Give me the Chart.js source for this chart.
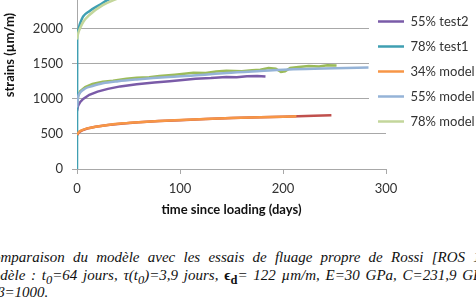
<!DOCTYPE html>
<html>
<head>
<meta charset="utf-8">
<script src="https://cdn.jsdelivr.net/npm/chart.js@4"></script>
<style>
  html, body { margin: 0; padding: 0; background: #fff; }
  #wrap { position: relative; width: 476px; height: 304px; overflow: hidden; }
  /* the plot runs above the top edge in the source picture, so the canvas is shifted up */
  #box { position: absolute; left: 0; top: -79px; width: 476px; height: 309px; }
  .cap { position: absolute; white-space: nowrap; font-family: "Liberation Serif", serif; font-style: italic; font-size: 15px; color: #111; line-height: 18px; }
  .cap b { font-style: normal; }
</style>
</head>
<body>
<div id="wrap">
  <div id="box"><canvas id="creepChart"></canvas></div>
  <div class="cap" style="left:-17px; top:248px; word-spacing:4.5px">Comparaison du modèle avec les essais de fluage propre de Rossi [ROS 12]</div>
  <div class="cap" style="left:-18px; top:266px; word-spacing:2px">modèle : t<sub>0</sub>=64 jours, τ(t<sub>0</sub>)=3,9 jours, <b>ϵ<sub>d</sub></b>= 122 µm/m, E=30 GPa, C=231,9 GPa,</div>
  <div class="cap" style="left:-3px; top:283px">β=1000.</div>
</div>
<script>
// values: days since loading -> strain (µm/m)
const days34test = [0, 2, 5, 10, 18, 30, 45, 60, 80, 100, 125, 150, 178, 200, 215, 230, 247];
const strain34test = [480, 528, 553, 578, 603, 628, 650, 667, 684, 698, 713, 727, 740, 748, 753, 759, 768];

const days55test1 = [0, 1, 3, 8, 15, 25, 35, 48, 58, 70, 80, 95, 113, 125, 135, 145, 160, 170, 178, 186, 193, 198, 202, 207, 215, 225, 235, 243, 252];
const strain55test1 = [900, 1040, 1110, 1170, 1215, 1248, 1262, 1290, 1302, 1312, 1327, 1347, 1376, 1370, 1392, 1402, 1396, 1412, 1418, 1442, 1432, 1386, 1396, 1442, 1456, 1470, 1466, 1481, 1478];

const days55test2 = [0, 1, 3, 6, 12, 20, 30, 42, 58, 75, 90, 105, 115, 130, 145, 155, 165, 175, 183];
const strain55test2 = [830, 900, 955, 1000, 1060, 1105, 1145, 1180, 1210, 1235, 1255, 1275, 1290, 1300, 1315, 1310, 1325, 1330, 1322];

const days78test1 = [0, 0.2, 1, 3, 6, 12, 22, 30, 50, 80, 120];
const strain78test1 = [0, 1900, 1990, 2080, 2180, 2255, 2345, 2415, 2520, 2620, 2700];

const days34model = [0, 2, 5, 10, 18, 30, 45, 60, 80, 100, 125, 150, 178, 200, 213];
const strain34model = [490, 530, 555, 580, 605, 630, 652, 668, 685, 700, 715, 728, 740, 748, 752];

const days55model = [0, 1, 3, 8, 15, 25, 40, 58, 89, 113, 145, 178, 210, 250, 283];
const strain55model = [880, 1020, 1090, 1150, 1185, 1225, 1255, 1280, 1315, 1335, 1372, 1400, 1425, 1440, 1450];

const days78model = [0, 1, 3, 6, 12, 25, 35, 60, 100, 150];
const strain78model = [1850, 1930, 2010, 2100, 2200, 2340, 2410, 2520, 2620, 2700];

const xTicks = [0, 100, 200, 300];
const yTicks = [0, 500, 1000, 1500, 2000];

const pts = (xs, ys) => xs.map((x, i) => ({ x: x, y: ys[i] }));

const gridGrey = '#a8a8a8';
const textFont = { family: 'Lato', size: 13 };
const shiftY = 79; // how far the canvas is pushed up

// legend sits over the right end of the plot, like the spreadsheet chart
const legendSpot = {
  id: 'legendSpot',
  beforeLayout(chart) {
    const lg = chart.legend;
    if (lg && !lg._patched) {
      const fit = lg.fit;
      lg.fit = function () { fit.call(this); this.width = 0; };
      lg._layers = function () { return [{ z: 1, draw(area) { lg.draw(area); } }]; };
      lg._patched = true;
    }
  },
  afterLayout(chart) {
    const lg = chart.legend;
    lg.left = 366; lg.right = 476; lg.top = shiftY + 3; lg.bottom = shiftY + 180;
  },
  afterDatasetsDraw(chart) {
    const ctx = chart.ctx;
    ctx.save();
    ctx.fillStyle = '#fff';
    ctx.fillRect(369, shiftY, 107, 127);
    ctx.restore();
  }
};

const line = (label, xs, ys, color, order, smooth) => ({
  label: label,
  data: pts(xs, ys),
  borderColor: color,
  backgroundColor: color,
  borderWidth: 2.5,
  pointRadius: 0,
  fill: false,
  order: order,
  cubicInterpolationMode: smooth ? 'monotone' : 'default',
  tension: 0
});

new Chart(document.getElementById('creepChart'), {
  type: 'line',
  data: {
    datasets: [
      line('55% test2', days55test2, strain55test2, '#7a5ba8', 5, false),
      line('78% test1', days78test1, strain78test1, '#3f9fb2', 4, true),
      line('34% model', days34model, strain34model, '#f79646', 2, true),
      line('55% model', days55model, strain55model, '#95b3d7', 1, true),
      line('78% model', days78model, strain78model, '#c3d69b', 3, true),
      line('34% test', days34test, strain34test, '#c0504d', 7, false),
      line('55% test1', days55test1, strain55test1, '#9bbb59', 6, false)
    ]
  },
  options: {
    responsive: true,
    maintainAspectRatio: false,
    animation: false,
    layout: { padding: { top: 20, left: 0, right: 90, bottom: 12 } },
    plugins: {
      tooltip: { enabled: false },
      legend: {
        position: 'right',
        align: 'start',
        labels: {
          font: textFont,
          color: '#333',
          padding: 12,
          usePointStyle: true,
          pointStyle: 'line',
          pointStyleWidth: 26,
          filter: item => item.datasetIndex < 5,
          sort: (a, b) => a.datasetIndex - b.datasetIndex
        }
      }
    },
    scales: {
      x: {
        type: 'linear',
        min: 0,
        max: 300,
        afterBuildTicks: scale => { scale.ticks = xTicks.map(v => ({ value: v })); },
        afterFit: scale => { scale.height = 49; },
        grid: { drawOnChartArea: false, drawTicks: true, tickLength: 5, color: gridGrey },
        border: { color: gridGrey },
        ticks: { font: textFont, color: '#333', padding: 7, maxRotation: 0, callback: v => String(v) },
        title: { display: true, text: 'time since loading (days)', font: { family: 'Lato', size: 13, weight: 'bold' }, color: '#111', padding: { top: 0, bottom: 0 } }
      },
      y: {
        min: 0,
        max: 3257,
        afterBuildTicks: scale => { scale.ticks = yTicks.map(v => ({ value: v })); },
        afterFit: scale => { scale.width = 77; },
        grid: { color: gridGrey, tickLength: 5 },
        border: { color: gridGrey },
        ticks: { font: textFont, color: '#333', padding: 9, callback: v => String(v) },
        title: { display: true, text: 'strains (µm/m)', font: { family: 'Lato', size: 13, weight: 'bold' }, color: '#111', padding: { top: 2, bottom: 0 } }
      }
    }
  },
  plugins: [legendSpot]
});
</script>
</body>
</html>
